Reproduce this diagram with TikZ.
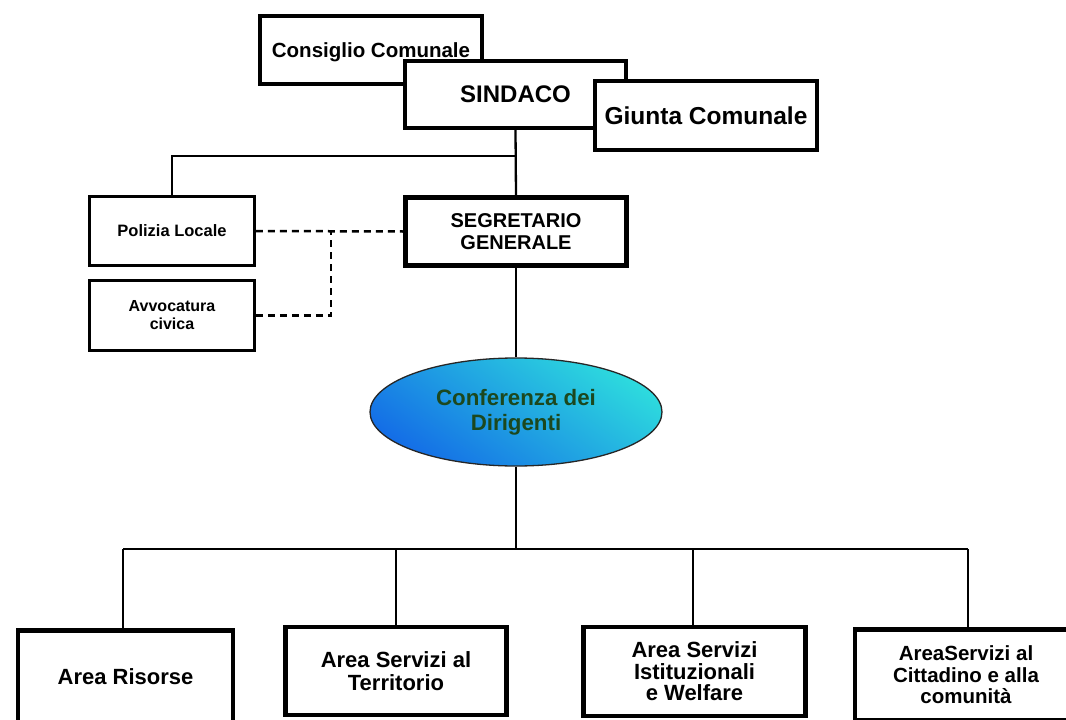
\documentclass[tikz,border=0pt]{standalone}
\usepackage{fontspec}
\setmainfont{Liberation Sans}
\usetikzlibrary{shapes.geometric}
\definecolor{ellblue}{RGB}{20,110,230}
\definecolor{ellcyan}{RGB}{45,218,222}
\definecolor{elltext}{RGB}{28,72,30}
\tikzset{
  bigbox/.style={draw=black, fill=white, line width=4, inner sep=0, align=center},
  smallbox/.style={draw=black, fill=white, line width=2.8, inner sep=0, align=center},
  conn/.style={draw=black, line width=2.3},
  dashconn/.style={draw=black, line width=2.5, dash pattern=on 7 off 5},
}
\begin{document}
\begin{tikzpicture}[x=1pt,y=-1pt]
\useasboundingbox (0,0) rectangle (1066,720);
\clip (0,0) rectangle (1066,720);
\fill[white] (0,0) rectangle (1066,720);

% top cluster
\node[bigbox, minimum width=222, minimum height=68, text depth=0pt, font=\fontsize{20.5}{24}\selectfont\bfseries] (consiglio) at (371,50) {Consiglio Comunale};
\node[bigbox, minimum width=221, minimum height=67, font=\fontsize{24}{26}\selectfont\bfseries] (sindaco) at (515.5,94.5) {SINDACO};
\node[bigbox, minimum width=222, minimum height=69, font=\fontsize{24.5}{28}\selectfont\bfseries] (giunta) at (706,115.5) {Giunta Comunale};

% staff
\node[smallbox, minimum width=165, minimum height=69, font=\fontsize{16.5}{18}\selectfont\bfseries] (polizia) at (172,231) {Polizia Locale};
\node[smallbox, minimum width=165, minimum height=70, font=\fontsize{16}{18}\selectfont\bfseries] (avvocatura) at (172,315.5) {Avvocatura\\civica};
\node[bigbox, line width=4.5, minimum width=221, minimum height=68, font=\fontsize{20}{22}\selectfont\bfseries] (segretario) at (516,231.5) {SEGRETARIO\\GENERALE};

% conference
\node[ellipse, draw=black!85, line width=1.3, inner sep=0, minimum width=292, minimum height=108,
      top color=ellcyan, bottom color=ellblue, shading angle=-35,
      text=elltext, align=center, font=\fontsize{22.3}{25}\selectfont\bfseries] (conf) at (516,412) {Conferenza dei\\Dirigenti};

% areas
\node[bigbox, line width=4.5, minimum width=215, minimum height=93, font=\fontsize{22}{23}\selectfont\bfseries] (risorse) at (125.5,677) {Area Risorse};
\node[bigbox, line width=4.5, minimum width=221, minimum height=88, font=\fontsize{22}{23}\selectfont\bfseries] (territorio) at (396,671) {Area Servizi al\\Territorio};
\node[bigbox, line width=4.5, minimum width=222, minimum height=89, font=\fontsize{22}{21.5}\selectfont\bfseries] (istituz) at (694.5,671.5) {Area Servizi\\Istituzionali\\e Welfare};
\node[bigbox, line width=4.5, minimum width=222, minimum height=91, font=\fontsize{20.5}{21.5}\selectfont\bfseries] (cittadino) at (966,675) {AreaServizi al\\Cittadino e alla\\comunità};

% connectors
\coordinate (jtop) at (516,156);
\coordinate (djoin) at (331,231);
\coordinate (bus) at (516,549);
\coordinate (busL) at (123,549);
\coordinate (busR) at (968,549);

\draw[conn] (sindaco.south) -- (segretario.north);
\draw[conn] (polizia.north) |- (jtop);
\draw[dashconn] (polizia.east) -- (segretario.west);
\draw[dashconn] (avvocatura.east) -| (djoin);
\draw[conn] (segretario.south) -- (conf.north);
\draw[conn] (conf.south) -- (bus);
\draw[conn] (busL) -- (busR);
\draw[conn] (busL) -- (busL |- risorse.north);
\draw[conn] (territorio.north |- bus) -- (territorio.north);
\draw[conn] (693,549) -- (693,626);
\draw[conn] (busR) -- (busR |- cittadino.north);
\end{tikzpicture}
\end{document}
